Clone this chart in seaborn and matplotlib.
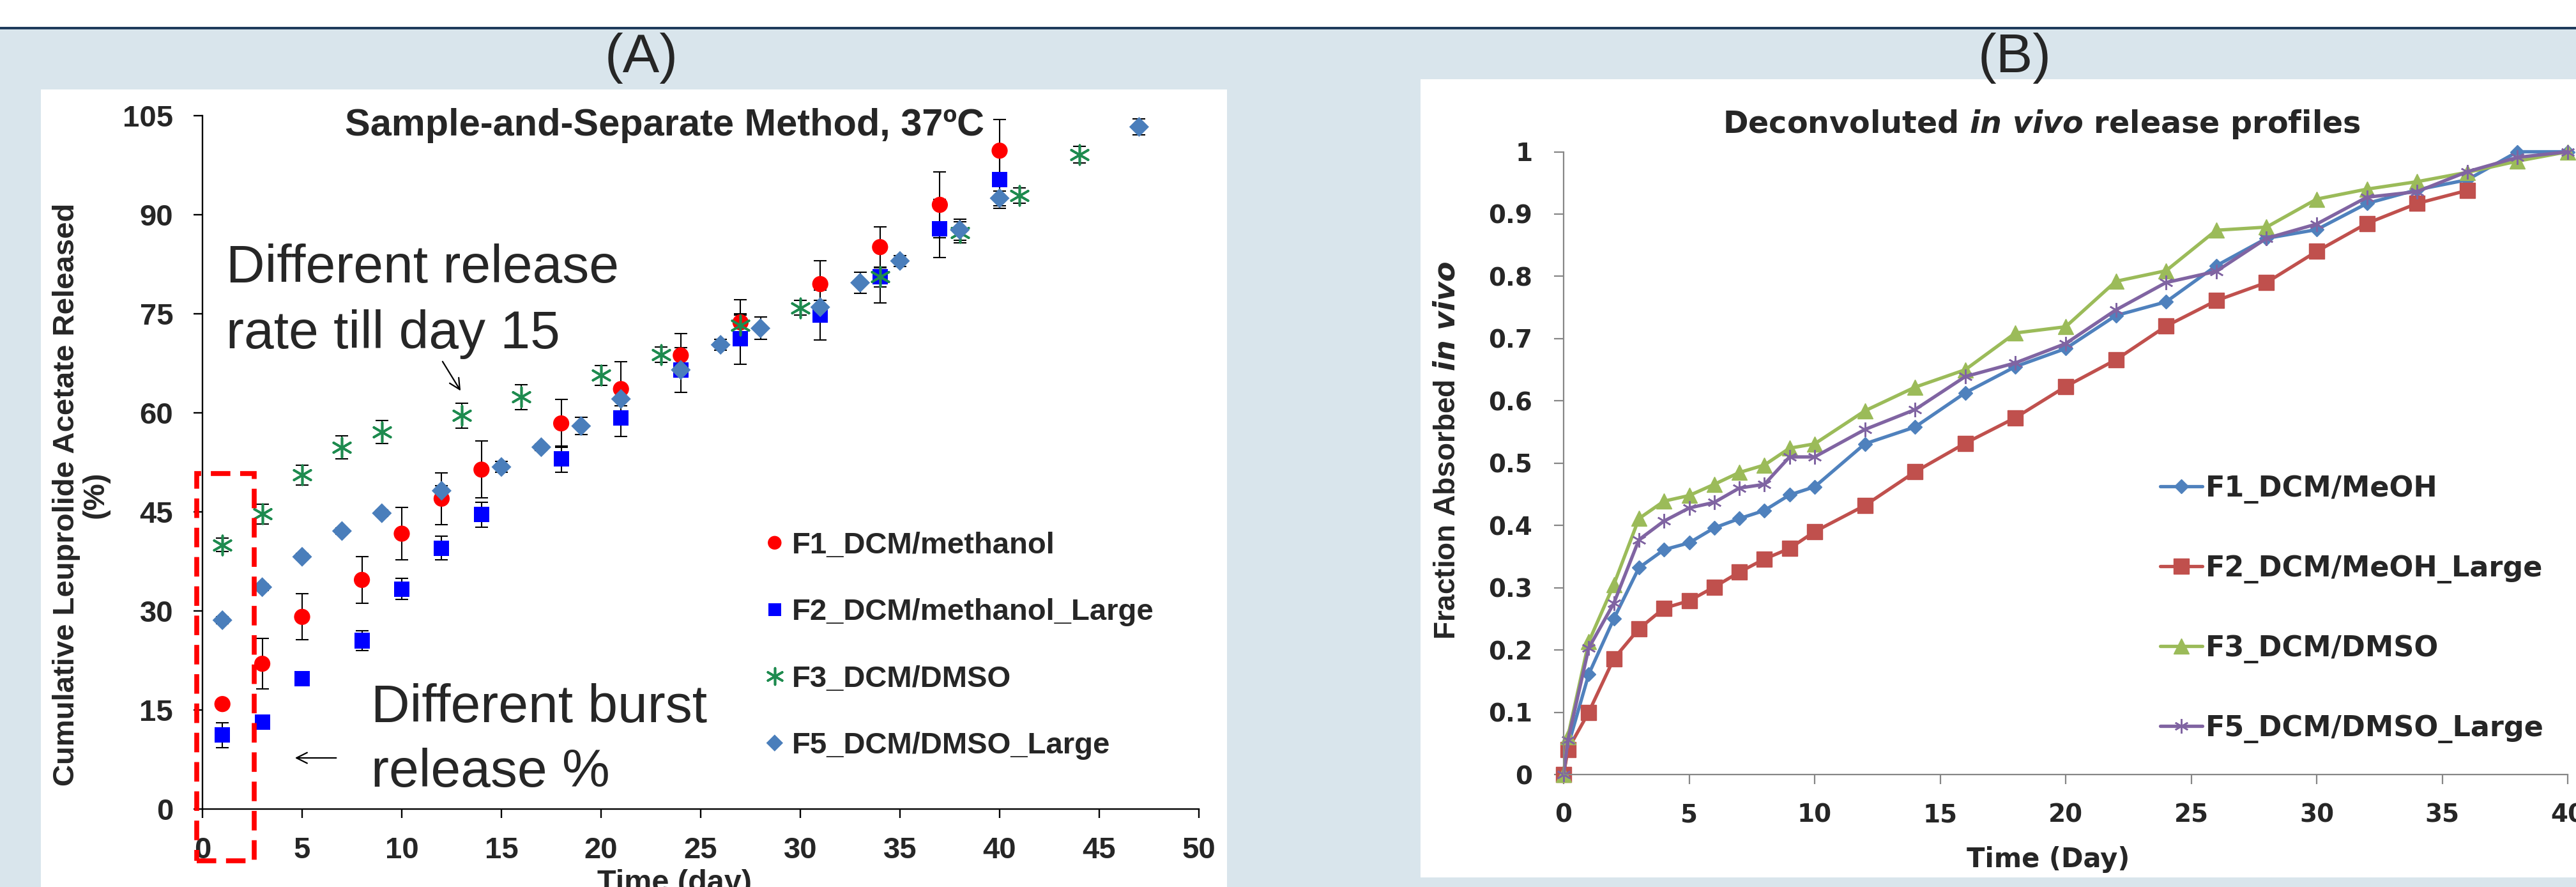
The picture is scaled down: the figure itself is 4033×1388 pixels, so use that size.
import matplotlib
matplotlib.use('Agg')
import matplotlib.pyplot as plt
import numpy as np
import seaborn as sns
from matplotlib.patches import Rectangle
from matplotlib.ticker import FuncFormatter

W, H = 4033, 1388

# ---- Panel A: in vitro release, sample-and-separate (mean, sd) ----
a_f1_day = [1, 3, 5, 8, 10, 12, 14, 18, 21, 24, 27, 31, 34, 37, 40]
a_f1_val = [15.9, 22.0, 29.1, 34.7, 41.7, 47.0, 51.4, 58.4, 63.6, 68.7, 73.7, 79.5, 85.1, 91.5, 99.7]
a_f1_err = [0.5, 3.8, 3.5, 3.5, 4.0, 3.9, 4.3, 3.6, 4.1, 3.3, 3.4, 3.5, 3.1, 5.0, 4.7]

a_f2_day = [1, 3, 5, 8, 10, 12, 14, 18, 21, 24, 27, 31, 34, 37, 40]
a_f2_val = [11.2, 13.2, 19.7, 25.5, 33.3, 39.5, 44.6, 53.0, 59.2, 66.5, 71.2, 74.8, 80.6, 87.9, 95.3]
a_f2_err = [1.9, 0.5, 0.5, 1.5, 1.6, 1.8, 1.9, 2.0, 2.8, 3.4, 3.8, 3.8, 4.0, 4.4, 4.3]

a_f3_day = [1, 3, 5, 7, 9, 13, 16, 20, 23, 27, 30, 34, 38, 41, 44]
a_f3_val = [40.0, 44.7, 50.6, 54.8, 57.1, 59.6, 62.4, 65.7, 68.8, 73.3, 75.9, 80.6, 87.3, 92.9, 99.1]
a_f3_err = [1.0, 1.5, 1.5, 1.75, 1.7, 1.9, 1.9, 1.5, 1.2, 1.5, 1.1, 1.5, 1.6, 1.2, 1.3]

a_f5_day = [1, 3, 5, 7, 9, 12, 15, 17, 19, 21, 24, 26, 28, 31, 33, 35, 38, 40, 47]
a_f5_val = [28.6, 33.6, 38.2, 42.1, 44.8, 48.2, 51.8, 54.8, 58.0, 62.1, 66.5, 70.3, 72.8, 76.0,
            79.7, 83.0, 87.7, 92.5, 103.3]
a_f5_err = [0.5, 0.5, 0.5, 0.5, 0.5, 0.8, 0.8, 0.5, 1.3, 1.0, 1.0, 0.8, 1.7, 1.0, 1.6, 0.8, 1.6, 1.1, 1.2]

a_names = ['F1_DCM/methanol', 'F2_DCM/methanol_Large', 'F3_DCM/DMSO', 'F5_DCM/DMSO_Large']

# ---- Panel B: deconvoluted in vivo profiles ----
b_day = [0, 0.17, 1, 2, 3, 4, 5, 6, 7, 8, 9, 10, 12, 14, 16, 18, 20, 22, 24, 26, 28, 30, 32, 34, 36, 38, 40]
b_f1 = [0, 0.045, 0.161, 0.250, 0.332, 0.361, 0.372, 0.396, 0.411, 0.424, 0.449, 0.462, 0.531, 0.558,
        0.613, 0.655, 0.684, 0.737, 0.759, 0.817, 0.861, 0.875, 0.917, 0.939, 0.955, 1.0, 1.0]
b_f2 = [0, 0.040, 0.100, 0.186, 0.234, 0.267, 0.279, 0.301, 0.325, 0.346, 0.363, 0.390, 0.432, 0.486,
        0.532, 0.573, 0.623, 0.666, 0.720, 0.761, 0.790, 0.840, 0.885, 0.917, 0.938]
b_f3 = [0, 0.061, 0.213, 0.305, 0.411, 0.439, 0.448, 0.466, 0.485, 0.497, 0.524, 0.531, 0.584, 0.622,
        0.650, 0.709, 0.719, 0.792, 0.809, 0.874, 0.879, 0.924, 0.940, 0.952, 0.967, 0.985, 1.0]
b_f5 = [0, 0.055, 0.203, 0.275, 0.377, 0.407, 0.428, 0.437, 0.460, 0.466, 0.510, 0.510, 0.554, 0.586,
        0.639, 0.661, 0.692, 0.746, 0.790, 0.808, 0.861, 0.884, 0.927, 0.936, 0.968, 0.991, 1.0]
b_names = ['F1_DCM/MeOH', 'F2_DCM/MeOH_Large', 'F3_DCM/DMSO', 'F5_DCM/DMSO_Large']

sns.set_style('ticks')
plt.rcParams['font.family'] = ['Liberation Sans', 'DejaVu Sans']
plt.rcParams['mathtext.fontset'] = 'custom'
plt.rcParams['mathtext.it'] = 'DejaVu Sans:italic:bold'

BG = '#d9e5ec'
fig = plt.figure(figsize=(W / 100, H / 100), dpi=100, facecolor=BG)


def fx(px):
    return px / W


def fy(py):
    return 1 - py / H


def box(x0, y0, x1, y1, color):
    fig.add_artist(Rectangle((fx(x0), fy(y1)), (x1 - x0) / W, (y1 - y0) / H,
                             transform=fig.transFigure, facecolor=color, edgecolor='none', zorder=0))


# slide background pieces
box(0, 0, W, 43, 'white')
box(0, 42, W, 46, '#1f3b5c')
box(64, 140, 1921, H, 'white')
box(2224, 124, W, 1373, 'white')

LIB = 'Liberation Sans'
DJV = 'DejaVu Sans'

# ================= Panel A =================
axA = fig.add_axes([fx(317), fy(1266), 1560 / W, 1085 / H])
axA.set_facecolor('none')

a_series = [
    (a_f1_day, a_f1_val, a_f1_err, 'o', '#ff0000', 330),
    (a_f2_day, a_f2_val, a_f2_err, 's', '#0000ff', 300),
    (a_f3_day, a_f3_val, a_f3_err, (6, 2, 0), '#1e8b4f', 480),
    (a_f5_day, a_f5_val, a_f5_err, 'D', '#4a7ebb', 250),
]
for name, (d, v, e, mk, col, size) in zip(a_names, a_series):
    axA.errorbar(d, v, yerr=e, fmt='none', ecolor='black', elinewidth=1.5,
                 capsize=7, capthick=1.5, zorder=2, clip_on=False)
    if mk == (6, 2, 0):
        sns.scatterplot(x=d, y=v, ax=axA, marker=mk, color=col, s=size,
                        linewidth=2.6, zorder=3, label=name, clip_on=False)
    else:
        sns.scatterplot(x=d, y=v, ax=axA, marker=mk, color=col, s=size,
                        edgecolor='none', zorder=3, label=name, clip_on=False)

axA.set_xlim(0, 50)
axA.set_ylim(0, 105)
axA.set_xticks(range(0, 51, 5))
axA.set_yticks(range(0, 106, 15))
sns.despine(ax=axA)
for s in ['left', 'bottom']:
    axA.spines[s].set_linewidth(1.7)
    axA.spines[s].set_color('black')
axA.tick_params(direction='out', length=10, width=1.7, color='black')
axA.tick_params(axis='y', pad=23)
axA.tick_params(axis='x', pad=21)
for lab in axA.get_xticklabels() + axA.get_yticklabels():
    lab.set_fontfamily(LIB)
    lab.set_fontweight('bold')
    lab.set_fontsize(34)
axA.set_xlabel('')
axA.set_ylabel('')

# burst-release box
axA.add_patch(Rectangle((-0.29, -7.8), 2.89, 58.6, fill=False, edgecolor='#ff0000',
                        linewidth=5.5, linestyle=(0, (4, 2)), clip_on=False, zorder=5))

axA.annotate('', xy=(13.0, 63.1), xytext=(12.0, 68.0),
             arrowprops=dict(arrowstyle='->', lw=1.6, color='black', mutation_scale=30))
axA.annotate('', xy=(4.55, 7.74), xytext=(6.8, 7.74),
             arrowprops=dict(arrowstyle='->', lw=1.6, color='black', mutation_scale=30))

hA, lA = axA.get_legend_handles_labels()
axA.legend(hA, lA, loc='center left', bbox_to_anchor=(fx(1201), fy(1010.5)),
           bbox_transform=fig.transFigure, frameon=False,
           prop={'family': LIB, 'weight': 'bold', 'size': 34},
           handlelength=0.5, handletextpad=0.32, labelspacing=1.28, borderpad=0,
           borderaxespad=0, markerscale=0.85, scatterpoints=1, scatteryoffsets=[0.5])

fig.text(fx(1041), fy(212.5), 'Sample-and-Separate Method, 37ºC', ha='center', va='baseline',
         family=LIB, weight='bold', size=42.8)
fig.text(fx(104), fy(774), 'Cumulative Leuprolide Acetate Released', rotation=90,
         ha='center', va='center', family=LIB, weight='bold', size=34)
fig.text(fx(150), fy(774), '(%)', rotation=90, ha='center', va='center',
         family=LIB, weight='bold', size=34)
fig.text(fx(1056), fy(1395), 'Time (day)', ha='center', va='baseline',
         family=LIB, weight='bold', size=35)

fig.text(fx(354), fy(442), 'Different release', ha='left', va='baseline', family=LIB, size=60.5)
fig.text(fx(354), fy(545), 'rate till day 15', ha='left', va='baseline', family=LIB, size=60.5)
fig.text(fx(581), fy(1130), 'Different burst', ha='left', va='baseline', family=LIB, size=60.5)
fig.text(fx(581), fy(1231), 'release %', ha='left', va='baseline', family=LIB, size=60.5)

fig.text(fx(1004), fy(91), '(A)', ha='center', va='center', family=LIB, size=62)
fig.text(fx(3154), fy(91), '(B)', ha='center', va='center', family=LIB, size=62)

# ================= Panel B =================
axB = fig.add_axes([fx(2448), fy(1212), 1572 / W, 974.5 / H])
axB.set_facecolor('none')

b_series = [
    (b_day, b_f1, '#4f81bd', 'D', 11, 1.0),
    (b_day[:len(b_f2)], b_f2, '#c0504d', 's', 17, 1.0),
    (b_day, b_f3, '#9bbb59', '^', 17, 1.0),
    (b_day, b_f5, '#8064a2', (6, 2, 0), 16, 1.8),
]
for name, (d, v, col, mk, ms, mew) in zip(b_names, b_series):
    sns.lineplot(x=d, y=v, ax=axB, color=col, marker=mk, markersize=ms,
                 markeredgecolor=col, markeredgewidth=mew, linewidth=3.8,
                 label=name, clip_on=False, errorbar=None, sort=False)

axB.set_xlim(0, 40)
axB.set_ylim(0, 1)
axB.set_xticks(range(0, 41, 5))
axB.set_yticks(np.arange(0, 1.01, 0.1))
axB.yaxis.set_major_formatter(FuncFormatter(lambda v, p: f'{v:g}'))
sns.despine(ax=axB)
for s in ['left', 'bottom']:
    axB.spines[s].set_linewidth(1.6)
    axB.spines[s].set_color('#868686')
axB.tick_params(direction='out', length=11, width=1.6, color='#868686')
axB.tick_params(axis='y', pad=24)
axB.tick_params(axis='x', pad=21)
for lab in axB.get_xticklabels() + axB.get_yticklabels():
    lab.set_fontfamily(DJV)
    lab.set_fontweight('bold')
    lab.set_fontsize(28)
axB.set_xlabel('')
axB.set_ylabel('')

hB, lB = axB.get_legend_handles_labels()
axB.legend(hB, lB, loc='center left', bbox_to_anchor=(fx(3382), fy(952.8)),
           bbox_transform=fig.transFigure, frameon=False,
           prop={'family': DJV, 'weight': 'bold', 'size': 32},
           handlelength=1.49, handletextpad=0.1, labelspacing=1.8, borderpad=0,
           borderaxespad=0)

fig.text(fx(3196), fy(208), 'Deconvoluted $\\mathit{in\\ vivo}$ release profiles',
         ha='center', va='baseline', family=DJV, weight='bold', size=34.3)
fig.text(fx(2266), fy(705), 'Fraction Absorbed $\\mathit{in\\ vivo}$', rotation=90,
         ha='center', va='center', family=LIB, weight='bold', size=33)
fig.text(fx(3207), fy(1357), 'Time (Day)', ha='center', va='baseline',
         family=DJV, weight='bold', size=30)

fig.savefig('out.png', dpi=100, facecolor=fig.get_facecolor())
